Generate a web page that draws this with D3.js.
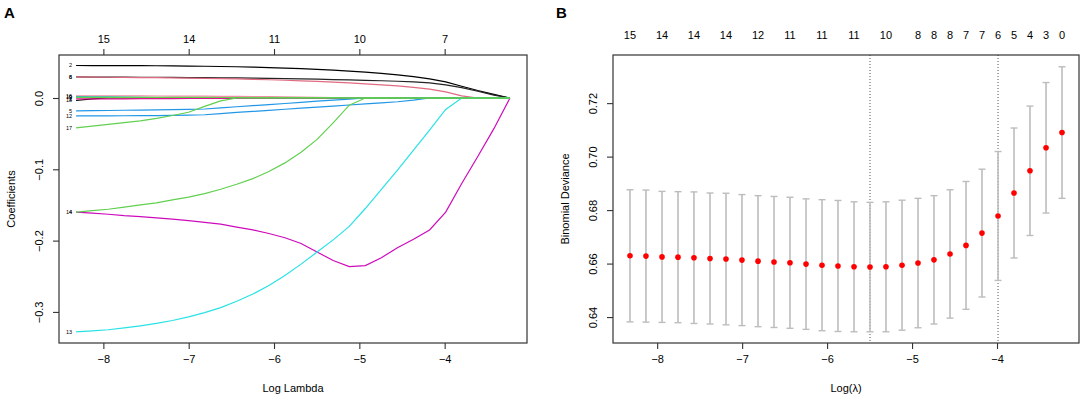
<!DOCTYPE html>
<html><head><meta charset="utf-8">
<script src="https://cdn.jsdelivr.net/npm/d3@7/dist/d3.min.js"></script>
<style>body{margin:0;background:#fff}svg{display:block}text{font-family:"Liberation Sans",Arial,sans-serif;fill:#000}</style>
</head><body><svg id="c" width="1084" height="402"></svg>
<script>
// ---- shared lambda grid (log scale) ----
const logLambda = [-8.320,-8.132,-7.943,-7.755,-7.567,-7.378,-7.190,-7.002,-6.813,-6.625,-6.437,-6.248,-6.060,-5.872,-5.683,-5.495,-5.307,-5.118,-4.930,-4.742,-4.553,-4.365,-4.177,-3.988,-3.800,-3.612,-3.423,-3.235];

// ---- panel A: coefficient paths ----
const coef2  = [0.0456,0.0455,0.0455,0.0454,0.0453,0.0452,0.0450,0.0448,0.0445,0.0442,0.0438,0.0433,0.0427,0.0420,0.0412,0.0402,0.0390,0.0377,0.0362,0.0345,0.0325,0.0300,0.0268,0.0225,0.0165,0.0105,0.0050,0];
const coef8  = [0.0295,0.0294,0.0293,0.0292,0.0291,0.0290,0.0289,0.0287,0.0285,0.0283,0.0281,0.0278,0.0275,0.0272,0.0268,0.0264,0.0259,0.0254,0.0248,0.0242,0.0235,0.0226,0.0212,0.0185,0.0145,0.0095,0.0040,0];
const coef6  = [0.0295,0.0293,0.0291,0.0289,0.0287,0.0285,0.0282,0.0279,0.0276,0.0272,0.0267,0.0262,0.0256,0.0249,0.0241,0.0232,0.0222,0.0211,0.0199,0.0185,0.0169,0.0150,0.0125,0.0085,0.0030,0,0,0];
const coef16 = [0.0030,0.0030,0.0030,0.0029,0.0029,0.0028,0.0027,0.0026,0.0025,0.0024,0.0022,0.0020,0.0018,0.0015,0.0012,0.0008,0.0004,0,0,0,0,0,0,0,0,0,0,0];
const coef10 = [0.0018,0.0017,0.0015,0.0013,0.0010,0.0007,0.0004,0.0001,0,0,0,0,0,0,0,0,0,0,0,0,0,0,0,0,0,0,0,0];
const coef1  = [-0.0012,-0.0012,-0.0011,-0.0011,-0.0010,-0.0009,-0.0008,-0.0007,-0.0006,-0.0005,-0.0003,-0.0001,0,0,0,0,0,0,0,0,0,0,0,0,0,0,0,0];
const coef18 = [-0.0035,-0.0012,0,0,0,0,0,0,0,0,0,0,0,0,0,0,0,0,0,0,0,0,0,0,0,0,0,0];
const coef5  = [-0.0180,-0.0178,-0.0175,-0.0172,-0.0169,-0.0166,-0.0163,-0.0160,-0.0154,-0.0138,-0.0123,-0.0108,-0.0092,-0.0077,-0.0061,-0.0045,-0.0030,-0.0015,0,0,0,0,0,0,0,0,0,0];
const coef12 = [-0.0252,-0.0251,-0.0250,-0.0249,-0.0248,-0.0246,-0.0243,-0.0240,-0.0235,-0.0218,-0.0203,-0.0189,-0.0174,-0.0158,-0.0143,-0.0128,-0.0113,-0.0098,-0.0083,-0.0068,-0.0053,-0.0030,0,0,0,0,0,0];
const coef17 = [-0.0420,-0.0395,-0.0370,-0.0345,-0.0320,-0.0285,-0.0245,-0.0200,-0.0117,-0.0040,0,0,0,0,0,0,0,0,0,0,0,0,0,0,0,0,0,0];
const coef14 = [-0.160,-0.158,-0.156,-0.153,-0.150,-0.147,-0.143,-0.139,-0.134,-0.128,-0.121,-0.113,-0.103,-0.091,-0.076,-0.058,-0.035,-0.010,0,0,0,0,0,0,0,0,0,0];
const coef4  = [-0.160,-0.1615,-0.163,-0.165,-0.1665,-0.168,-0.170,-0.172,-0.1745,-0.177,-0.181,-0.185,-0.190,-0.196,-0.204,-0.216,-0.228,-0.2365,-0.235,-0.224,-0.210,-0.198,-0.185,-0.160,-0.120,-0.082,-0.043,0];
const coef13 = [-0.328,-0.3265,-0.325,-0.3225,-0.3195,-0.316,-0.312,-0.307,-0.301,-0.294,-0.285,-0.275,-0.263,-0.249,-0.233,-0.216,-0.199,-0.180,-0.155,-0.128,-0.101,-0.073,-0.045,-0.016,0,0,0,0];
const coef9  = [0.0010,0.0010,0.0010,0.0009,0.0009,0.0009,0.0008,0.0008,0.0008,0.0007,0.0007,0.0006,0.0006,0.0005,0.0005,0.0004,0.0004,0.0003,0.0002,0.0001,0,0,0,0,0,0,0,0];
const ticksA = [-8,-7,-6,-5,-4];
const dfTopA = [15,14,11,10,7];
const yTicksA = [0,-0.1,-0.2,-0.3];

// ---- panel B: cross-validation curve ----
const cvMean = [0.6629,0.6628,0.6625,0.6624,0.6622,0.6619,0.6617,0.6613,0.6609,0.6606,0.6603,0.6598,0.6594,0.6591,0.6588,0.6587,0.6588,0.6594,0.6602,0.6614,0.6636,0.6668,0.6714,0.6778,0.6864,0.6947,0.7033,0.7090];
const cvLow  = [0.6382,0.6381,0.6380,0.6379,0.6376,0.6374,0.6371,0.6368,0.6364,0.6361,0.6358,0.6354,0.6349,0.6346,0.6345,0.6345,0.6345,0.6351,0.6360,0.6374,0.6396,0.6429,0.6475,0.6537,0.6621,0.6705,0.6789,0.6844];
const cvUp   = [0.6876,0.6875,0.6870,0.6869,0.6868,0.6864,0.6863,0.6858,0.6854,0.6851,0.6848,0.6842,0.6839,0.6836,0.6831,0.6829,0.6831,0.6837,0.6844,0.6854,0.6876,0.6907,0.6953,0.7019,0.7107,0.7189,0.7277,0.7336];
const nzero  = [15,15,14,14,14,14,14,13,12,12,11,11,11,11,11,11,10,10,8,8,8,7,7,6,5,4,3,0];
const lambdaMinIdx = 15, lambda1seIdx = 23;
const yTicksB = [0.64,0.66,0.68,0.70,0.72];

// ---- drawing ----
const svg = d3.select("#c");
const FS = 11;
const fmtMinus = s => s.replace("-", "\u2212");

// series spec (style separate from data)
const seriesA = [
  {name:"18", v:coef18, col:"#000000"},
  {name:"2",  v:coef2,  col:"#000000"},
  {name:"8",  v:coef8,  col:"#222222"},
  {name:"6",  v:coef6,  col:"#E06A80"},
  {name:"16", v:coef16, col:"#EE8FA6"},
  {name:"10", v:coef10, col:"#28B8C0"},
  {name:"1",  v:coef1,  col:"#E0108C"},
  {name:"5",  v:coef5,  col:"#2297E6"},
  {name:"12", v:coef12, col:"#2297E6"},
  {name:"4",  v:coef4,  col:"#CD0BBC"},
  {name:"13", v:coef13, col:"#28E2E5"},
  {name:"17", v:coef17, col:"#61D04F"},
  {name:"14", v:coef14, col:"#61D04F"},
  {name:"9",  v:coef9,  col:"#61D04F"}
];

function panel(L, R, T, B){ return {L,R,T,B}; }
const pA = panel(59, 527, 55, 343);
const pB = panel(613, 1079, 55, 343);

// Panel A scales
const xA = d3.scaleLinear().domain([-8.52, -3.035]).range([pA.L, pA.R]);
const yA = d3.scaleLinear().domain([-0.3436, 0.0603]).range([pA.B, pA.T]);
const gA = svg.append("g");

const lineA = d3.line().x((d,i)=>xA(logLambda[i])).y(d=>yA(d));
seriesA.forEach(s=>{
  gA.append("path").attr("d", lineA(s.v)).attr("fill","none")
    .attr("stroke", s.col).attr("stroke-width",1.2);
});
seriesA.forEach(s=>{
  gA.append("text").attr("x", xA(logLambda[0]) - 4).attr("y", yA(s.v[0]) + 1.8)
    .attr("text-anchor","end").attr("font-size",5.5).text(s.name);
});

// axes A
const axBotA = d3.axisBottom(xA).tickValues(ticksA).tickSize(6).tickPadding(6).tickFormat(d=>fmtMinus(String(d)));
const gBA = gA.append("g").attr("transform",`translate(0,${pA.B})`).call(axBotA);
const axTopA = d3.axisTop(xA).tickValues(ticksA).tickSize(6).tickPadding(6).tickFormat((d,i)=>dfTopA[i]);
const gTA = gA.append("g").attr("transform",`translate(0,${pA.T})`).call(axTopA);
const axLeftA = d3.axisLeft(yA).tickValues(yTicksA).tickSize(6).tickFormat(d=>fmtMinus(d3.format(".1f")(d)));
const gLA = gA.append("g").attr("transform",`translate(${pA.L},0)`).call(axLeftA);
[gBA,gTA,gLA].forEach(g=>{
  g.select(".domain").remove();
  g.selectAll("line").attr("stroke","#333").attr("stroke-width",1.1);
  g.selectAll("text").attr("font-size",FS).attr("font-family","Liberation Sans, Arial, sans-serif").attr("fill","#000");
});
gLA.selectAll(".tick text").attr("x",null).attr("dy",null)
  .attr("text-anchor","middle").attr("transform","translate(-16,0) rotate(-90)").attr("dy","0");
gA.append("rect").attr("x",pA.L).attr("y",pA.T).attr("width",pA.R-pA.L).attr("height",pA.B-pA.T)
  .attr("fill","none").attr("stroke","#333").attr("stroke-width",1.2);
gA.append("text").attr("x",(pA.L+pA.R)/2).attr("y",392).attr("text-anchor","middle").attr("font-size",FS).text("Log Lambda");
gA.append("text").attr("transform",`translate(15,${(pA.T+pA.B)/2}) rotate(-90)`).attr("text-anchor","middle").attr("font-size",FS).text("Coefficients");
svg.append("text").attr("x",4).attr("y",18).attr("font-size",15).attr("font-weight","bold").text("A");

// Panel B scales
const xB = d3.scaleLinear().domain([-8.52, -3.035]).range([pB.L, pB.R]);
const yB = d3.scaleLinear().domain([0.6303, 0.7380]).range([pB.B, pB.T]);
const gB = svg.append("g");

// reference lines
[lambdaMinIdx, lambda1seIdx].forEach(i=>{
  gB.append("line").attr("x1",xB(logLambda[i])).attr("x2",xB(logLambda[i]))
    .attr("y1",pB.T).attr("y2",pB.B).attr("stroke","#555").attr("stroke-width",1)
    .attr("stroke-dasharray","1,2");
});
// error bars
const cap = 3.5;
logLambda.forEach((l,i)=>{
  const x = xB(l);
  gB.append("line").attr("x1",x).attr("x2",x).attr("y1",yB(cvLow[i])).attr("y2",yB(cvUp[i]))
    .attr("stroke","#bdbdbd").attr("stroke-width",1.6);
  [cvLow[i],cvUp[i]].forEach(v=>{
    gB.append("line").attr("x1",x-cap).attr("x2",x+cap).attr("y1",yB(v)).attr("y2",yB(v))
      .attr("stroke","#bdbdbd").attr("stroke-width",1.4);
  });
});
gB.selectAll("circle.pt").data(cvMean).join("circle").attr("class","pt")
  .attr("cx",(d,i)=>xB(logLambda[i])).attr("cy",d=>yB(d)).attr("r",2.8).attr("fill","#ff0000");

// axes B
const axBotB = d3.axisBottom(xB).tickValues(ticksA).tickSize(6).tickPadding(6).tickFormat(d=>fmtMinus(String(d)));
const gBB = gB.append("g").attr("transform",`translate(0,${pB.B})`).call(axBotB);
const axLeftB = d3.axisLeft(yB).tickValues(yTicksB).tickSize(6).tickFormat(d3.format(".2f"));
const gLB = gB.append("g").attr("transform",`translate(${pB.L},0)`).call(axLeftB);
[gBB,gLB].forEach(g=>{
  g.select(".domain").remove();
  g.selectAll("line").attr("stroke","#333").attr("stroke-width",1.1);
  g.selectAll("text").attr("font-size",FS).attr("font-family","Liberation Sans, Arial, sans-serif").attr("fill","#000");
});
gLB.selectAll(".tick text").attr("x",null).attr("dy","0")
  .attr("text-anchor","middle").attr("transform","translate(-16,0) rotate(-90)");
// top labels (no ticks), skip overlapping like R's axis()
let lastRight = -1e9;
logLambda.forEach((l,i)=>{
  const t = gB.append("text").attr("x",xB(l)).attr("y",39).attr("text-anchor","middle").attr("font-size",FS).text(nzero[i]);
  const w = t.node().getComputedTextLength();
  const left = xB(l) - w/2;
  if (left < lastRight + 5) { t.remove(); } else { lastRight = xB(l) + w/2; }
});
gB.append("rect").attr("x",pB.L).attr("y",pB.T).attr("width",pB.R-pB.L).attr("height",pB.B-pB.T)
  .attr("fill","none").attr("stroke","#333").attr("stroke-width",1.2);
gB.append("text").attr("x",(pB.L+pB.R)/2).attr("y",392).attr("text-anchor","middle").attr("font-size",FS).text("Log(\u03BB)");
gB.append("text").attr("transform",`translate(569,${(pB.T+pB.B)/2}) rotate(-90)`).attr("text-anchor","middle").attr("font-size",FS).text("Binomial Deviance");
svg.append("text").attr("x",556).attr("y",18).attr("font-size",15).attr("font-weight","bold").text("B");
</script></body></html>
